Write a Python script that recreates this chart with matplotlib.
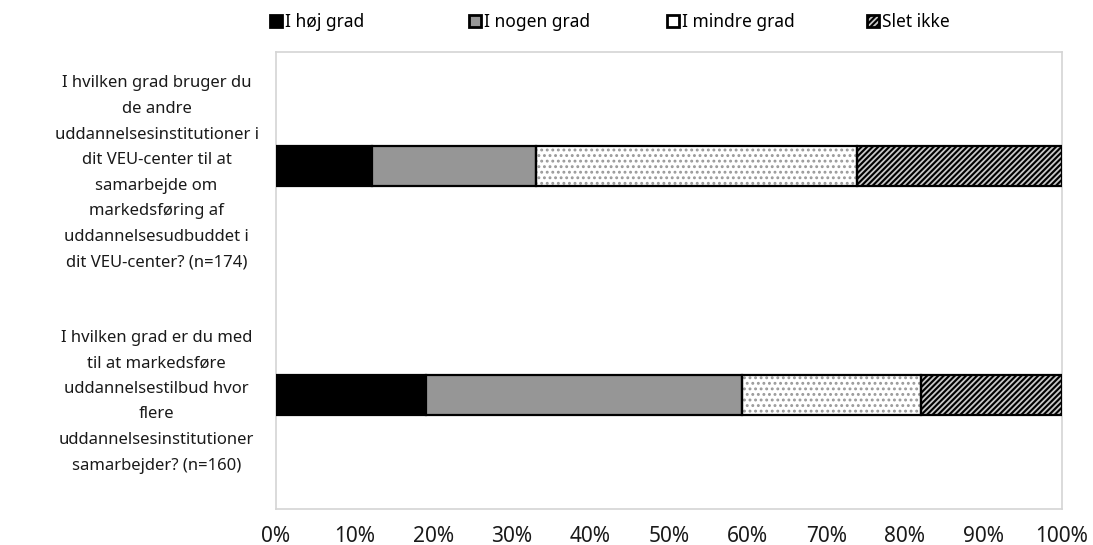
import matplotlib
matplotlib.use("Agg")
import matplotlib.pyplot as plt
from matplotlib.patches import Patch
from matplotlib.legend_handler import HandlerTuple
from matplotlib.ticker import PercentFormatter

plt.rcParams['font.family'] = ['Noto Sans', 'DejaVu Sans']
plt.rcParams['hatch.linewidth'] = 1.3

questions = [
    "I hvilken grad bruger du\nde andre\nuddannelsesinstitutioner i\ndit VEU-center til at\n"
    "samarbejde om\nmarkedsføring af\nuddannelsesudbuddet i\ndit VEU-center? (n=174)",
    "I hvilken grad er du med\ntil at markedsføre\nuddannelsestilbud hvor\nflere\n"
    "uddannelsesinstitutioner\nsamarbejder? (n=160)",
]
levels = ["I høj grad", "I nogen grad", "I mindre grad", "Slet ikke"]
hoej_grad = [12.2, 19.1]
nogen_grad = [20.9, 40.2]
mindre_grad = [40.8, 22.8]
slet_ikke = [26.1, 17.9]

# face, hatch, hatch colour per answer level
styles = [
    ("black", None, None),
    ("#969696", None, None),
    ("white", "...", "#999999"),
    ("black", "//////", "#c8c8c8"),
]

fig = plt.figure(figsize=(10.93, 5.45), dpi=100)
ax = fig.add_axes([276 / 1093, 1 - 509 / 545, 786 / 1093, 457 / 545])

ypos = [1, 0]
bar_h = 0.175
left = [0.0, 0.0]
for vals, (face, hatch, hcol) in zip([hoej_grad, nogen_grad, mindre_grad, slet_ikke], styles):
    if hatch:
        ax.barh(ypos, vals, left=left, height=bar_h, color=face, hatch=hatch,
                edgecolor=hcol, linewidth=0, zorder=2)
        ax.barh(ypos, vals, left=left, height=bar_h, fill=False,
                edgecolor="black", linewidth=1.6, zorder=3)
    else:
        ax.barh(ypos, vals, left=left, height=bar_h, color=face,
                edgecolor="black", linewidth=1.6, zorder=3)
    left = [l + v for l, v in zip(left, vals)]

ax.set_xlim(0, 100)
ax.set_ylim(-0.5, 1.5)
ax.xaxis.set_major_formatter(PercentFormatter(decimals=0))
ax.set_xticks(range(0, 101, 10))
ax.set_yticks(ypos)
ax.set_yticklabels(questions)
ax.tick_params(axis='x', length=0, pad=12, labelsize=15, labelcolor="#1a1a1a")
ax.tick_params(axis='y', length=0, pad=86, labelsize=12, labelcolor="#1a1a1a")
for lbl in ax.get_yticklabels():
    lbl.set_horizontalalignment('center')
    lbl.set_multialignment('center')
    lbl.set_linespacing(1.8)
for sp in ax.spines.values():
    sp.set_color("#d4d4d4")
    sp.set_linewidth(1.2)

# one legend box per level, evenly spread across the top
legend_x = [270, 469, 667, 867]
for name, (face, hatch, hcol), x in zip(levels, styles, legend_x):
    if hatch:
        fill = Patch(facecolor=face, edgecolor=hcol, hatch=hatch, linewidth=0)
        if face == "white":
            fill = Patch(facecolor="white", linewidth=0)
        handle = (fill, Patch(fill=False, edgecolor="black", linewidth=2))
    else:
        handle = Patch(facecolor=face, edgecolor="black", linewidth=2)
    fig.legend([handle], [name], loc="center left",
               bbox_to_anchor=(x / 1093, 1 - 22 / 545), frameon=False,
               handlelength=0.7, handleheight=0.7, handletextpad=0.15,
               borderpad=0, borderaxespad=0, fontsize=12.5,
               handler_map={tuple: HandlerTuple(ndivide=1, pad=0)})

fig.savefig("out.png", dpi=100)
